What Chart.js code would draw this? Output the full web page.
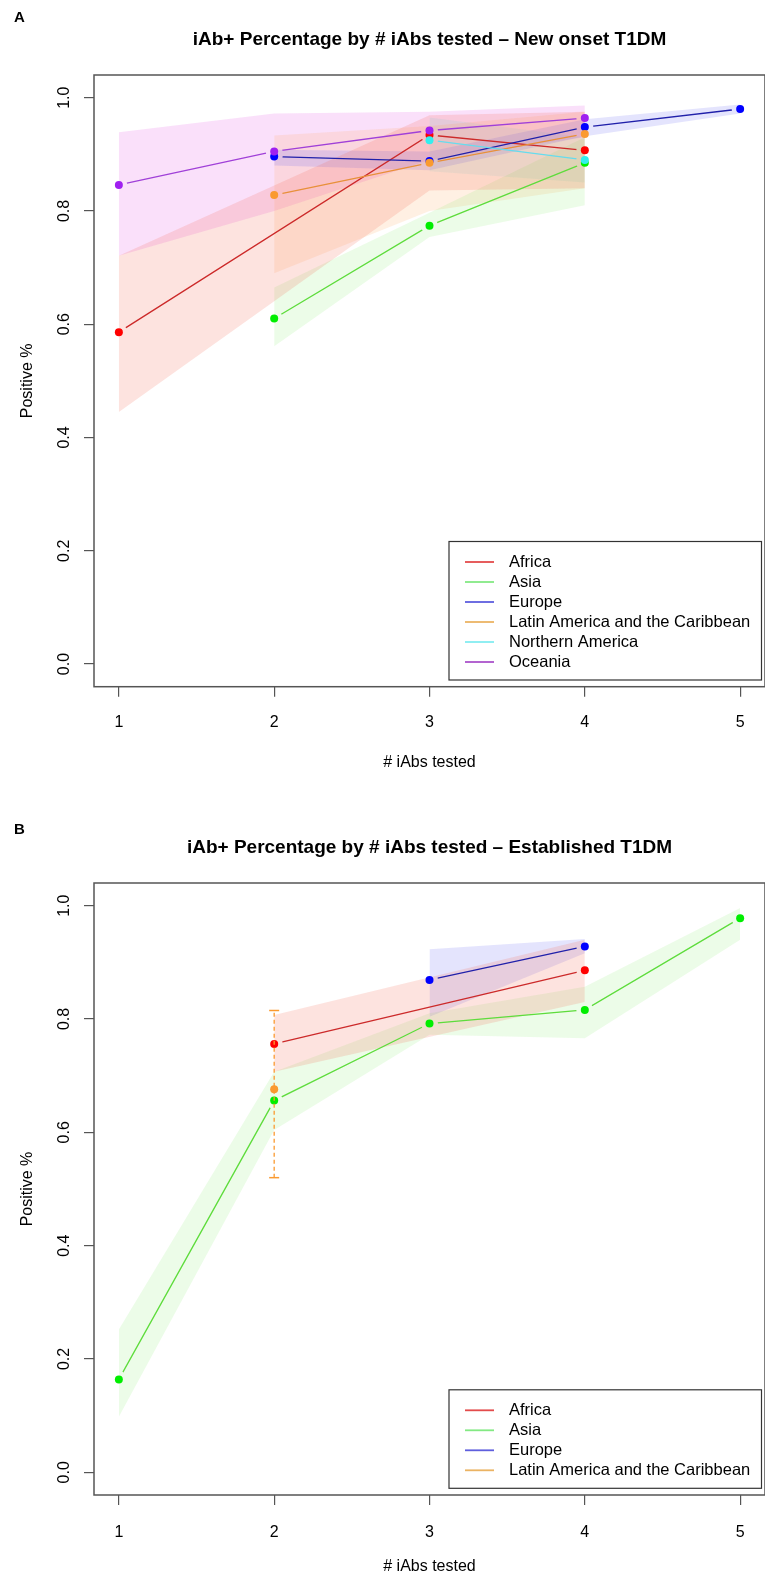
<!DOCTYPE html>
<html lang="en">
<head>
<meta charset="UTF-8">
<title>iAb+ Percentage by # iAbs tested</title>
<script src="https://cdn.jsdelivr.net/npm/chart.js"></script>
<style>
    body { margin: 0; background: #fff; }
    canvas { display: block; }
</style>
</head>
<body>
<canvas id="chartA" width="765" height="808"></canvas>
<canvas id="chartB" width="765" height="769"></canvas>
<script>
const xTicks = [1, 2, 3, 4, 5];
const yTicks = [0, 0.2, 0.4, 0.6, 0.8, 1.0];

// Panel A - new onset T1DM (estimate, lower CI, upper CI)
const africaA_x = [1, 3, 4];
const africaA = [0.586, 0.934, 0.907];
const africaA_lo = [0.445, 0.836, 0.840];
const africaA_hi = [0.721, 0.969, 0.975];

const asiaA_x = [2, 3, 4];
const asiaA = [0.610, 0.774, 0.885];
const asiaA_lo = [0.561, 0.754, 0.810];
const asiaA_hi = [0.665, 0.797, 0.930];

const europeA_x = [2, 3, 4, 5];
const europeA = [0.896, 0.888, 0.948, 0.980];
const europeA_lo = [0.880, 0.872, 0.932, 0.972];
const europeA_hi = [0.908, 0.905, 0.962, 0.988];

const latinA_x = [2, 3, 4];
const latinA = [0.828, 0.885, 0.936];
const latinA_lo = [0.690, 0.800, 0.840];
const latinA_hi = [0.933, 0.950, 0.975];

const northA_x = [3, 4];
const northA = [0.925, 0.890];
const northA_lo = [0.870, 0.850];
const northA_hi = [0.965, 0.930];

const oceaniaA_x = [1, 2, 3, 4];
const oceaniaA = [0.846, 0.905, 0.942, 0.964];
const oceaniaA_lo = [0.721, 0.800, 0.890, 0.930];
const oceaniaA_hi = [0.939, 0.972, 0.975, 0.986];

// Panel B - established T1DM
const africaB_x = [2, 4];
const africaB = [0.756, 0.886];
const africaB_lo = [0.707, 0.830];
const africaB_hi = [0.807, 0.940];

const asiaB_x = [1, 2, 3, 4, 5];
const asiaB = [0.164, 0.656, 0.792, 0.816, 0.978];
const asiaB_lo = [0.098, 0.604, 0.772, 0.766, 0.940];
const asiaB_hi = [0.252, 0.707, 0.810, 0.857, 0.996];

const europeB_x = [3, 4];
const europeB = [0.869, 0.928];
const europeB_lo = [0.804, 0.916];
const europeB_hi = [0.923, 0.941];

const latinB_x = [2];
const latinB = [0.676];
const latinB_lo = [0.520];
const latinB_hi = [0.815];

const colors = {
    'Africa': { point: '#ff0000', line: '#cc2a2a', band: 'rgba(245,100,80,0.18)', key: 'rgba(220,30,30,0.8)' },
    'Asia': { point: '#00ee00', line: '#5edc3c', band: 'rgba(110,235,80,0.13)', key: 'rgba(90,225,90,0.75)' },
    'Europe': { point: '#0000ff', line: '#2020aa', band: 'rgba(90,90,240,0.16)', key: 'rgba(40,40,210,0.75)' },
    'Latin America and the Caribbean': { point: '#fa9a30', line: '#e8903a', band: 'rgba(255,160,80,0.16)', key: 'rgba(230,160,60,0.8)' },
    'Northern America': { point: '#33eeee', line: '#66dcee', band: 'rgba(80,225,240,0.14)', key: 'rgba(90,230,235,0.75)' },
    'Oceania': { point: '#a020f0', line: '#a040d8', band: 'rgba(230,90,230,0.19)', key: 'rgba(150,40,190,0.8)' }
};

const FONT = '"Liberation Sans", Arial, Helvetica, sans-serif';
Chart.defaults.font.family = FONT;
Chart.defaults.font.size = 16;
Chart.defaults.color = '#000';

function pts(xs, ys) {
    return xs.map((x, i) => ({ x: x, y: ys[i] }));
}

// lower bound, upper bound (filled to lower), line with gaps, points
function series(name, rank, xs, ys, lo, hi) {
    const c = colors[name];
    return [
        { data: pts(xs, lo), borderWidth: 0, pointRadius: 0, fill: false, order: 20 },
        { data: pts(xs, hi), borderWidth: 0, pointRadius: 0, fill: '-1', backgroundColor: c.band, order: 20 },
        {
            label: name, legendColor: c.key, gapLine: true, data: pts(xs, ys),
            borderColor: c.line, borderWidth: 1.3, pointRadius: 0,
            fill: false, order: 10 - rank
        },
        {
            data: pts(xs, ys), showLine: false,
            pointRadius: 4, pointBorderWidth: 0, pointBackgroundColor: c.point,
            order: 10 - rank
        }
    ];
}

// vertical dashed CI for a single point
function errorBar(name, xs, ys, lo, hi) {
    const c = colors[name];
    return [
        {
            data: [{ x: xs[0], y: lo[0] }, { x: xs[0], y: hi[0] }],
            borderColor: c.point, borderWidth: 1.3, borderDash: [4, 3],
            pointStyle: 'line', pointRadius: 5, pointBorderColor: c.point,
            pointBorderWidth: 1.5, fill: false, order: 0
        },
        {
            label: name, legendColor: c.key, data: pts(xs, ys), showLine: false,
            pointRadius: 4, pointBorderWidth: 0, pointBackgroundColor: c.point, order: 0.5
        }
    ];
}

// leave a small gap in the lines around each point, like R's type = "b"
const gapPlugin = {
    id: 'gaps',
    beforeDatasetDraw(chart, args) {
        const ds = chart.data.datasets[args.index];
        if (!ds.gapLine) return;
        const ctx = chart.ctx;
        ctx.save();
        ctx.beginPath();
        ctx.rect(0, 0, chart.width, chart.height);
        args.meta.data.forEach(p => {
            ctx.moveTo(p.x + 8.5, p.y);
            ctx.arc(p.x, p.y, 8.5, 0, Math.PI * 2);
        });
        ctx.clip('evenodd');
    },
    afterDatasetDraw(chart, args) {
        if (chart.data.datasets[args.index].gapLine) chart.ctx.restore();
    }
};

const panelPlugin = {
    id: 'panel',
    afterDraw(chart, args, opts) {
        const { ctx, chartArea: a } = chart;
        ctx.save();
        // plot box
        ctx.strokeStyle = '#555';
        ctx.lineWidth = 1.5;
        ctx.strokeRect(a.left, a.top, a.right - a.left, a.bottom - a.top);

        ctx.fillStyle = '#000';
        ctx.textBaseline = 'middle';
        ctx.font = 'bold 15px ' + FONT;
        ctx.textAlign = 'left';
        ctx.fillText(opts.letter, 14, opts.letterY);
        ctx.font = 'bold 19px ' + FONT;
        ctx.textAlign = 'center';
        ctx.fillText(opts.title, (a.left + a.right) / 2, 40);

        // legend box, bottom right
        const items = chart.data.datasets.filter(d => d.legendColor);
        const w = 312.5, rowH = 20;
        const h = items.length * rowH + 18.5;
        const right = a.right - 3.5, bottom = a.bottom - 6.7;
        const left = right - w, top = bottom - h;
        ctx.fillStyle = '#fff';
        ctx.fillRect(left, top, w, h);
        ctx.strokeStyle = '#333';
        ctx.lineWidth = 1.2;
        ctx.strokeRect(left, top, w, h);
        ctx.font = '16.5px ' + FONT;
        ctx.textAlign = 'left';
        items.forEach((d, i) => {
            const y = top + 20.5 + i * rowH;
            ctx.strokeStyle = d.legendColor;
            ctx.lineWidth = 1.8;
            ctx.beginPath();
            ctx.moveTo(left + 16, y);
            ctx.lineTo(left + 45, y);
            ctx.stroke();
            ctx.fillStyle = '#000';
            ctx.fillText(d.label, left + 60, y + 0.5);
        });
        ctx.restore();
    }
};

function makeChart(id, datasets, opts) {
    return new Chart(document.getElementById(id), {
        type: 'line',
        data: { datasets: datasets },
        plugins: [gapPlugin, panelPlugin],
        options: {
            responsive: false,
            animation: false,
            layout: { autoPadding: false, padding: { top: 75, left: 0, right: 0, bottom: 0 } },
            plugins: {
                legend: { display: false },
                tooltip: { enabled: false },
                panel: { letter: opts.letter, letterY: opts.letterY, title: opts.title }
            },
            scales: {
                x: {
                    type: 'linear', min: 0.84, max: 5.16,
                    afterBuildTicks: s => { s.ticks = xTicks.map(v => ({ value: v })); },
                    afterFit: s => { s.height = opts.xAxisH; },
                    ticks: { padding: opts.tickPad, maxRotation: 0, autoSkip: false, callback: v => String(v) },
                    grid: { drawOnChartArea: false, drawTicks: true, tickLength: 10, color: '#555', lineWidth: 1.2 },
                    border: { display: false },
                    title: { display: true, text: '# iAbs tested', font: { size: 16 }, padding: { top: 0, bottom: opts.xTitlePad } }
                },
                y: {
                    type: 'linear', min: -0.04, max: 1.04,
                    afterBuildTicks: s => { s.ticks = yTicks.map(v => ({ value: v })); },
                    afterFit: s => { s.width = 94; },
                    ticks: { minRotation: 90, maxRotation: 90, crossAlign: 'center', padding: 8, callback: v => v.toFixed(1) },
                    grid: { drawOnChartArea: false, drawTicks: true, tickLength: 10, color: '#555', lineWidth: 1.2 },
                    border: { display: false },
                    title: { display: true, text: 'Positive %', font: { size: 16 }, padding: { top: 17.5, bottom: 0 } }
                }
            }
        }
    });
}

makeChart('chartA', [].concat(
    series('Africa', 0, africaA_x, africaA, africaA_lo, africaA_hi),
    series('Asia', 1, asiaA_x, asiaA, asiaA_lo, asiaA_hi),
    series('Europe', 2, europeA_x, europeA, europeA_lo, europeA_hi),
    series('Latin America and the Caribbean', 3, latinA_x, latinA, latinA_lo, latinA_hi),
    series('Northern America', 4, northA_x, northA, northA_lo, northA_hi),
    series('Oceania', 5, oceaniaA_x, oceaniaA, oceaniaA_lo, oceaniaA_hi)
), { letter: 'A', letterY: 18, title: 'iAb+ Percentage by # iAbs tested \u2013 New onset T1DM',
     xAxisH: 121.3, tickPad: 16, xTitlePad: 35.4 });

makeChart('chartB', [].concat(
    series('Africa', 0, africaB_x, africaB, africaB_lo, africaB_hi),
    series('Asia', 1, asiaB_x, asiaB, asiaB_lo, asiaB_hi),
    series('Europe', 2, europeB_x, europeB, europeB_lo, europeB_hi),
    errorBar('Latin America and the Caribbean', latinB_x, latinB, latinB_lo, latinB_hi)
), { letter: 'B', letterY: 22, title: 'iAb+ Percentage by # iAbs tested \u2013 Established T1DM',
     xAxisH: 82, tickPad: 18, xTitlePad: 0.5 });
</script>
</body>
</html>
